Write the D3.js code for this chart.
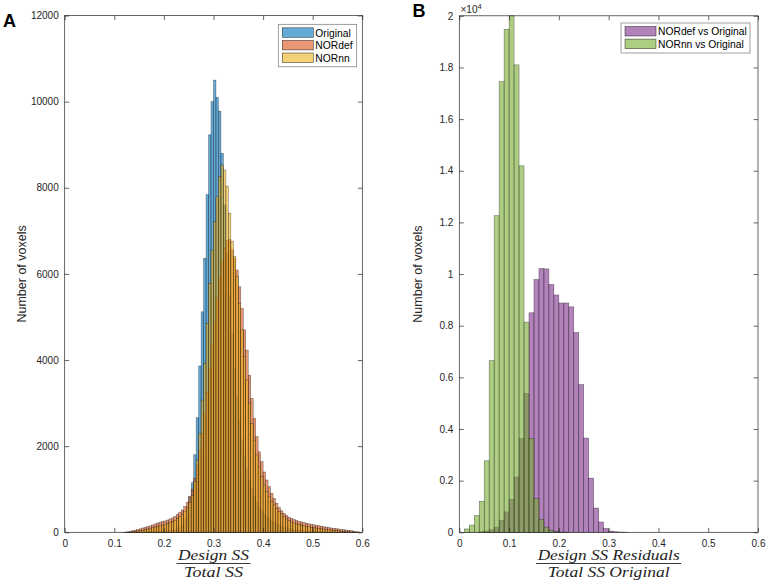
<!DOCTYPE html>
<html><head><meta charset="utf-8">
<script src="https://cdn.jsdelivr.net/npm/d3@7"></script>
<style>body{margin:0;background:#fff}svg{display:block}</style>
</head><body><svg id="c" width="768" height="582"></svg>
<script>
// ---------------- DATA ----------------
// Panel A: histogram bins start at 0.10, width 0.005 (100 bins)
const binStartA = 0.10, binWidthA = 0.005;
const seriesNamesA = ["Original", "NORdef", "NORnn"];
const original = [
  0,0,0,1,1,2,2,3,3,4,
  5,6,8,10,12,15,18,21,25,30,
  30,35,42,50,62,80,110,170,300,560,
  820,1150,1800,2660,3860,5120,6360,7840,9230,10000,
  10500,10100,9780,8800,7600,6500,5500,4600,3800,3150,
  2600,2150,1780,1470,1220,1010,840,700,590,500,
  420,360,305,260,222,190,162,140,120,103,
  88,76,65,56,48,41,35,30,26,22,
  19,16,14,12,10,8,7,6,5,4,
  3,3,2,2,1,1,1,0,0,0];
const nordef = [
  0,0,0,0,3,10,20,35,50,65,
  80,100,115,130,150,170,195,215,235,250,
  265,285,310,335,370,420,470,520,600,700,
  830,1000,1250,1550,1900,2300,2750,3250,3800,4350,
  4900,5450,5900,6300,6600,6780,6800,6560,6360,6090,
  5700,5200,4700,4230,3650,3110,2650,2220,1870,1640,
  1400,1215,1060,905,790,673,580,500,440,390,
  350,320,295,275,255,240,225,210,198,186,
  175,163,152,141,130,120,110,100,92,84,
  76,68,60,52,44,36,28,18,8,2];
const nornn = [
  0,0,0,0,0,3,8,15,22,30,
  40,50,62,75,90,105,120,135,150,165,
  180,200,225,250,280,320,365,420,490,580,
  700,850,1175,1680,2300,3070,3920,4850,5780,6555,
  7210,7790,8260,8530,8410,8040,7410,6760,6400,5935,
  5320,4700,4080,3540,3000,2530,2140,1795,1520,1290,
  1100,940,825,710,635,555,478,425,362,310,
  270,240,215,195,178,163,150,138,127,117,
  108,99,90,82,74,66,58,50,43,36,
  30,24,18,13,9,6,3,1,0,0];
const yTicksA = [0,2000,4000,6000,8000,10000,12000];
const xTicks = [0,0.1,0.2,0.3,0.4,0.5,0.6];

// Panel B: bins start at 0.00, width 0.01 (60 bins)
const binStartB = 0.0, binWidthB = 0.01;
const seriesNamesB = ["NORdef vs Original", "NORnn vs Original"];
const nordefVsOrig = [
  0,0,0,0,20,50,100,200,460,790,
  1280,2140,3630,5380,8500,9790,10220,10200,9600,9190,
  8880,8880,8730,7740,5720,3650,2100,940,400,150,
  50,20,10,5,0,0,0,0,0,0,
  0,0,0,0,0,0,0,0,0,0,
  0,0,0,0,0,0,0,0,0,0];
const nornnVsOrig = [
  0,130,280,650,1200,2770,6650,12260,17450,19480,
  20000,18100,14190,8140,3640,1300,500,200,80,30,
  10,5,0,0,0,0,0,0,0,0,
  0,0,0,0,0,0,0,0,0,0,
  0,0,0,0,0,0,0,0,0,0,
  0,0,0,0,0,0,0,0,0,0];
const yTicksB = [0,0.2,0.4,0.6,0.8,1,1.2,1.4,1.6,1.8,2];
const yTickLabelsB = ["0","0.2","0.4","0.6","0.8","1","1.2","1.4","1.6","1.8","2"];

// ---------------- STYLE ----------------
const colA = ["#0072BD", "#D95319", "#EDB120"];
const colB = ["#7E2F8E", "#77AC30"];
const faceAlpha = 0.6;
const axisCol = "#262626";
const sans = "'Liberation Sans', Arial, sans-serif";
const serif = "'Liberation Serif', 'Times New Roman', serif";

const svg = d3.select("#c");

function panel(opt){
  const g = svg.append("g");
  const x = d3.scaleLinear().domain([0,0.6]).range([opt.x0, opt.x1]);
  const y = d3.scaleLinear().domain(opt.ydom).range([opt.y0, opt.y1]);
  // bars
  opt.series.forEach((s, si) => {
    const data = s.map((v,i)=>({x0: opt.binStart + i*opt.binWidth, v}));
    g.append("g").selectAll("rect").data(data.filter(d=>d.v>0)).join("rect")
      .attr("x", d=>x(d.x0))
      .attr("width", d=>x(d.x0+opt.binWidth)-x(d.x0))
      .attr("y", d=>y(d.v))
      .attr("height", d=>y(0)-y(d.v))
      .attr("fill", opt.colors[si]).attr("fill-opacity", faceAlpha)
      .attr("stroke", "#000").attr("stroke-opacity", 0.55).attr("stroke-width", 0.5);
  });
  // box
  g.append("rect").attr("x", opt.x0).attr("y", opt.y1)
    .attr("width", opt.x1-opt.x0).attr("height", opt.y0-opt.y1)
    .attr("fill","none").attr("stroke", axisCol).attr("stroke-width", 0.7);
  const tl = 4.5;
  const xa = d3.axisBottom(x).tickValues(xTicks).tickSize(-tl).tickPadding(8)
    .tickFormat(d=>d===0?"0":d3.format(".1f")(d));
  const gx = g.append("g").attr("transform",`translate(0,${opt.y0})`).call(xa);
  const xt = d3.axisTop(x).tickValues(xTicks).tickSize(-tl).tickFormat("");
  const gxt = g.append("g").attr("transform",`translate(0,${opt.y1})`).call(xt);
  const ya = d3.axisLeft(y).tickValues(opt.yticks).tickSize(-tl).tickPadding(6)
    .tickFormat((d,i)=>opt.ylabels[i]);
  const gy = g.append("g").attr("transform",`translate(${opt.x0},0)`).call(ya);
  const yr = d3.axisRight(y).tickValues(opt.yticks).tickSize(-tl).tickFormat("");
  const gyr = g.append("g").attr("transform",`translate(${opt.x1},0)`).call(yr);
  [gx,gxt,gy,gyr].forEach(a=>{
    a.select(".domain").remove();
    a.selectAll("line").attr("stroke", axisCol).attr("stroke-width",0.7);
    a.selectAll("text").attr("fill", axisCol).style("font-family", sans).style("font-size","10px");
  });
  // y label
  g.append("text").attr("transform",`translate(${opt.ylabX},${(opt.y0+opt.y1)/2}) rotate(-90)`)
    .attr("text-anchor","middle").attr("fill", axisCol)
    .style("font-family", sans).style("font-size","12.5px").text("Number of voxels");
  // x label (fraction)
  const cx = (opt.x0+opt.x1)/2;
  g.append("text").attr("x", cx).attr("y", 560.3).attr("text-anchor","middle")
    .attr("textLength", opt.numW).attr("lengthAdjust","spacingAndGlyphs")
    .attr("fill","#222").style("font-family", serif).style("font-style","italic").style("font-size","14px")
    .text(opt.num);
  g.append("line").attr("x1", cx-opt.barW/2).attr("x2", cx+opt.barW/2)
    .attr("y1", 563.5).attr("y2", 563.5).attr("stroke","#222").attr("stroke-width",0.9);
  g.append("text").attr("x", cx).attr("y", 576.5).attr("text-anchor","middle")
    .attr("textLength", opt.denW).attr("lengthAdjust","spacingAndGlyphs")
    .attr("fill","#222").style("font-family", serif).style("font-style","italic").style("font-size","14px")
    .text(opt.den);
  // legend
  const lg = g.append("g");
  lg.append("rect").attr("x", opt.lx).attr("y", opt.ly).attr("width", opt.lw).attr("height", opt.lh)
    .attr("fill","#fff").attr("stroke","#777").attr("stroke-width",0.7);
  opt.names.forEach((n,i)=>{
    const yy = opt.ly + 3.5 + i*12.6;
    lg.append("rect").attr("x", opt.lx+4).attr("y", yy).attr("width", 31).attr("height", 9.5)
      .attr("fill", opt.colors[i]).attr("fill-opacity", faceAlpha)
      .attr("stroke","#000").attr("stroke-opacity",0.7).attr("stroke-width",0.6);
    lg.append("text").attr("x", opt.lx+37).attr("y", yy+8.8).attr("fill","#000")
      .style("font-family", sans).style("font-size","10.3px").text(n);
  });
  svg.append("text").attr("x", opt.letterX).attr("y", opt.letterY)
    .style("font-family", sans).style("font-weight","bold").style("font-size","18px")
    .attr("fill","#000").text(opt.letter);
  return {x,y};
}

panel({x0:64.7, x1:362.3, y0:532.3, y1:15.5, ydom:[0,12000],
  binStart:binStartA, binWidth:binWidthA, series:[original,nordef,nornn], colors:colA,
  yticks:yTicksA, ylabels:yTicksA.map(String), ylabX:26,
  num:"Design  SS", den:"Total  SS", numW:71, denW:59, barW:74,
  names:seriesNamesA, lx:278.3, ly:24.3, lw:78.4, lh:42.5,
  letter:"A", letterX:3, letterY:27});

panel({x0:459.3, x1:758, y0:532.3, y1:15.8, ydom:[0,20000],
  binStart:binStartB, binWidth:binWidthB, series:[nordefVsOrig,nornnVsOrig], colors:colB,
  yticks:yTicksB.map(v=>v*10000), ylabels:yTickLabelsB, ylabX:422,
  num:"Design  SS  Residuals", den:"Total  SS  Original", numW:142, denW:122, barW:145,
  names:seriesNamesB, lx:621, ly:23, lw:129, lh:30,
  letter:"B", letterX:412.5, letterY:16.5});

const ex = svg.append("text").attr("x", 460.5).attr("y", 13.2).attr("fill", axisCol)
  .style("font-family", sans).style("font-size","10px");
ex.append("tspan").text("\u00d710");
ex.append("tspan").attr("dy",-4).style("font-size","7.5px").text("4");
</script></body></html>
